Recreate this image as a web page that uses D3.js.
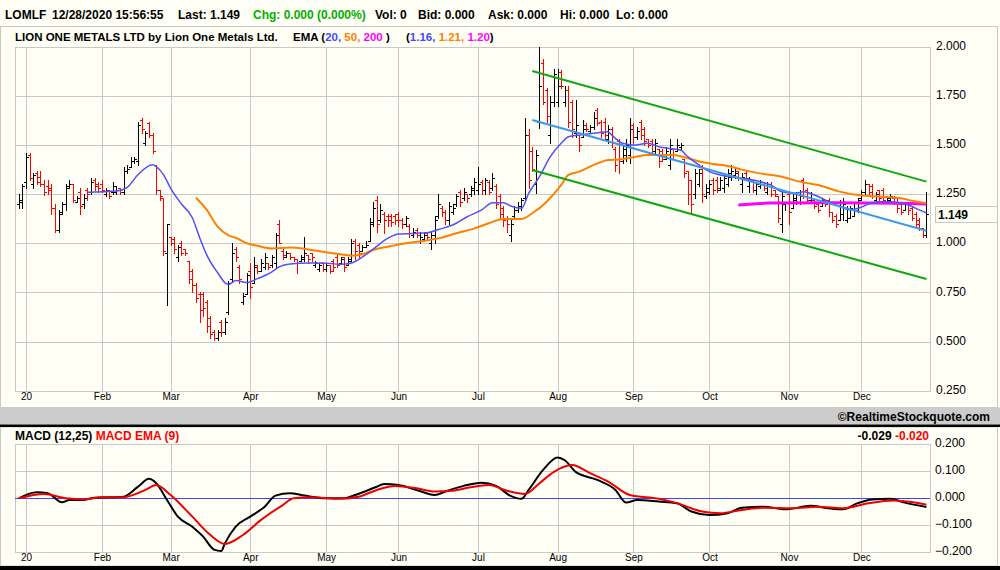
<!DOCTYPE html>
<html>
<head>
<meta charset="utf-8">
<script src="https://cdn.jsdelivr.net/npm/d3@7"></script>
<style>
body { margin: 0; background: #fffff5; }
svg { display: block; font-family: "Liberation Sans", Arial, sans-serif; }
</style>
</head>
<body>
<svg id="chart"></svg>
<script>
// daily bars [open, high, low, close], one array per month (last two 2019 sessions first)
const dec19 = [[1.20,1.25,1.18,1.22],[1.21,1.30,1.18,1.29]];
const jan = [[1.31,1.46,1.28,1.44],[1.45,1.46,1.32,1.33],[1.30,1.36,1.28,1.35],[1.36,1.37,1.30,1.31],[1.34,1.37,1.29,1.30],
  [1.30,1.32,1.245,1.26],[1.29,1.32,1.25,1.27],[1.28,1.30,1.15,1.18],[1.18,1.20,1.06,1.07],[1.07,1.17,1.06,1.15],
  [1.16,1.21,1.15,1.20],[1.20,1.30,1.17,1.28],[1.29,1.32,1.28,1.30],[1.30,1.30,1.21,1.22],[1.21,1.24,1.21,1.23],
  [1.26,1.28,1.15,1.19],[1.20,1.25,1.18,1.23],[1.27,1.28,1.22,1.25],[1.26,1.33,1.25,1.31],[1.32,1.33,1.27,1.29],
  [1.30,1.31,1.26,1.28]];
const feb = [[1.30,1.32,1.26,1.27],[1.25,1.28,1.24,1.27],[1.27,1.27,1.23,1.24],[1.26,1.31,1.25,1.29],[1.26,1.29,1.25,1.27],
  [1.28,1.28,1.25,1.26],[1.26,1.39,1.25,1.37],[1.37,1.40,1.36,1.38],[1.39,1.44,1.39,1.42],[1.42,1.44,1.41,1.43],
  [1.42,1.62,1.40,1.60],[1.63,1.64,1.56,1.58],[1.51,1.57,1.50,1.56],[1.61,1.62,1.54,1.55],[1.55,1.56,1.46,1.47],
  [1.40,1.40,1.25,1.27],[1.27,1.27,1.22,1.24],[1.23,1.23,0.94,0.96],[0.95,1.10,0.685,1.10]];
const mar = [[1.03,1.03,0.99,1.00],[1.02,1.03,0.95,0.97],[0.93,0.99,0.91,0.98],[1.00,1.01,0.94,0.95],[0.97,0.97,0.94,0.95],
  [0.91,0.91,0.80,0.82],[0.86,0.87,0.75,0.79],[0.79,0.80,0.70,0.72],[0.74,0.75,0.60,0.66],[0.74,0.75,0.63,0.67],
  [0.70,0.71,0.55,0.58],[0.62,0.63,0.52,0.54],[0.55,0.56,0.51,0.52],[0.52,0.56,0.51,0.55],[0.60,0.61,0.53,0.55],
  [0.55,0.62,0.54,0.60],[0.65,0.81,0.64,0.80],[0.82,1.00,0.81,0.95],[0.97,0.98,0.91,0.93],[0.88,0.89,0.80,0.82],
  [0.70,0.745,0.69,0.73],[0.74,0.85,0.74,0.84]];
const apr = [[0.86,0.90,0.72,0.78],[0.80,0.93,0.80,0.88],[0.89,0.89,0.85,0.86],[0.86,0.92,0.86,0.90],[0.88,0.95,0.87,0.93],
  [0.90,0.90,0.87,0.88],[0.89,0.94,0.88,0.93],[0.90,1.05,0.88,1.04],[1.10,1.12,1.00,1.00],[0.96,0.97,0.92,0.94],
  [0.93,0.96,0.93,0.95],[0.95,0.95,0.92,0.93],[0.93,0.93,0.91,0.92],[0.92,0.92,0.85,0.90],[0.91,0.94,0.91,0.93],
  [0.92,1.03,0.91,0.95],[0.94,0.94,0.90,0.92],[0.95,0.95,0.91,0.93],[0.89,0.91,0.88,0.90],[0.87,0.90,0.86,0.89],
  [0.90,0.90,0.86,0.87]];
const may = [[0.87,0.90,0.86,0.89],[0.89,0.89,0.85,0.86],[0.91,0.92,0.86,0.88],[0.93,0.94,0.88,0.89],[0.90,0.93,0.90,0.92],
  [0.93,0.93,0.86,0.88],[0.89,0.93,0.89,0.91],[0.92,1.02,0.91,1.00],[1.01,1.02,0.92,0.96],[0.99,1.00,0.93,0.95],
  [0.96,0.99,0.96,0.98],[0.98,1.01,0.98,0.99],[1.01,1.13,1.01,1.11],[1.10,1.21,1.09,1.18],[1.22,1.24,1.06,1.10],
  [1.12,1.20,1.11,1.17],[1.15,1.16,1.05,1.12],[1.14,1.15,1.09,1.12],[1.14,1.15,1.09,1.11],[1.14,1.15,1.10,1.12]];
const jun = [[1.15,1.16,1.09,1.12],[1.12,1.13,1.08,1.10],[1.10,1.14,1.09,1.13],[1.09,1.10,1.03,1.05],[1.04,1.08,1.03,1.06],
  [1.07,1.08,1.03,1.04],[1.01,1.06,1.00,1.03],[1.02,1.06,1.01,1.04],[1.05,1.06,1.02,1.03],[1.00,1.06,0.97,1.04],
  [1.04,1.14,1.00,1.12],[1.14,1.25,1.13,1.20],[1.18,1.19,1.14,1.16],[1.16,1.17,1.10,1.12],[1.12,1.21,1.10,1.19],
  [1.16,1.20,1.15,1.18],[1.20,1.25,1.19,1.24],[1.26,1.27,1.19,1.21],[1.23,1.28,1.22,1.26],[1.25,1.25,1.21,1.23],
  [1.25,1.29,1.24,1.28],[1.27,1.33,1.25,1.31]];
const jul = [[1.27,1.39,1.25,1.30],[1.31,1.32,1.25,1.27],[1.27,1.33,1.25,1.32],[1.31,1.32,1.25,1.26],[1.28,1.36,1.27,1.33],
  [1.29,1.30,1.18,1.20],[1.24,1.25,1.13,1.15],[1.18,1.19,1.09,1.12],[1.13,1.14,1.06,1.10],[1.04,1.12,1.01,1.10],
  [1.14,1.19,1.13,1.17],[1.17,1.21,1.16,1.19],[1.19,1.23,1.17,1.22],[1.23,1.64,1.22,1.55],[1.55,1.58,1.28,1.32],
  [1.47,1.49,1.37,1.38],[1.30,1.475,1.255,1.45],[1.62,2.00,1.585,1.80],[1.92,1.94,1.71,1.72],[1.78,1.79,1.62,1.65],
  [1.55,1.75,1.51,1.72],[1.72,1.89,1.70,1.86]];
const aug = [[1.72,1.89,1.70,1.80],[1.87,1.88,1.79,1.80],[1.72,1.80,1.70,1.78],[1.78,1.80,1.59,1.62],[1.72,1.73,1.54,1.58],
  [1.56,1.73,1.54,1.60],[1.55,1.55,1.47,1.50],[1.54,1.63,1.54,1.58],[1.60,1.61,1.57,1.58],[1.57,1.60,1.56,1.59],
  [1.59,1.67,1.58,1.64],[1.68,1.69,1.60,1.61],[1.62,1.63,1.54,1.56],[1.62,1.64,1.53,1.55],[1.53,1.60,1.51,1.58],
  [1.58,1.59,1.49,1.51],[1.48,1.49,1.37,1.40],[1.52,1.53,1.36,1.42],[1.42,1.50,1.41,1.48],[1.45,1.53,1.42,1.50],
  [1.45,1.64,1.41,1.58]];
const sep = [[1.60,1.61,1.51,1.54],[1.54,1.59,1.53,1.57],[1.62,1.63,1.53,1.55],[1.58,1.59,1.50,1.52],[1.53,1.53,1.49,1.50],
  [1.52,1.53,1.45,1.47],[1.47,1.53,1.46,1.51],[1.48,1.48,1.39,1.42],[1.47,1.48,1.42,1.43],[1.43,1.49,1.43,1.47],
  [1.40,1.53,1.38,1.50],[1.48,1.48,1.43,1.45],[1.47,1.53,1.47,1.50],[1.49,1.51,1.48,1.50],[1.43,1.43,1.34,1.36],
  [1.37,1.37,1.20,1.25],[1.32,1.32,1.16,1.20],[1.25,1.38,1.23,1.36],[1.30,1.38,1.29,1.36],[1.38,1.40,1.21,1.25],
  [1.24,1.30,1.23,1.28]];
const oct = [[1.26,1.32,1.25,1.30],[1.32,1.33,1.25,1.27],[1.32,1.34,1.26,1.28],[1.27,1.34,1.27,1.32],[1.28,1.36,1.26,1.33],
  [1.30,1.38,1.29,1.36],[1.34,1.40,1.32,1.37],[1.35,1.38,1.33,1.36],[1.37,1.37,1.32,1.33],[1.30,1.36,1.26,1.34],
  [1.36,1.37,1.32,1.33],[1.29,1.34,1.26,1.32],[1.32,1.32,1.26,1.27],[1.27,1.31,1.25,1.30],[1.29,1.32,1.28,1.31],
  [1.31,1.31,1.27,1.28],[1.26,1.31,1.25,1.30],[1.30,1.31,1.24,1.25],[1.27,1.27,1.24,1.25],[1.24,1.24,1.11,1.13],
  [1.10,1.26,1.06,1.24],[1.20,1.21,1.17,1.21]];
const nov = [[1.25,1.25,1.10,1.16],[1.18,1.25,1.18,1.23],[1.22,1.26,1.20,1.25],[1.21,1.27,1.20,1.24],[1.32,1.33,1.23,1.24],
  [1.27,1.28,1.21,1.22],[1.22,1.26,1.21,1.25],[1.22,1.22,1.18,1.19],[1.20,1.21,1.16,1.17],[1.19,1.23,1.19,1.22],
  [1.22,1.22,1.19,1.20],[1.22,1.23,1.14,1.16],[1.16,1.16,1.11,1.12],[1.14,1.15,1.085,1.10],[1.12,1.22,1.12,1.21],
  [1.15,1.23,1.12,1.20],[1.12,1.19,1.11,1.13],[1.13,1.19,1.13,1.18],[1.14,1.20,1.14,1.17],[1.17,1.23,1.16,1.22]];
const dec = [[1.23,1.27,1.22,1.26],[1.26,1.32,1.25,1.30],[1.30,1.30,1.24,1.26],[1.29,1.30,1.23,1.24],[1.22,1.26,1.21,1.25],
  [1.27,1.27,1.22,1.23],[1.27,1.28,1.21,1.22],[1.21,1.24,1.21,1.23],[1.22,1.25,1.21,1.24],[1.23,1.24,1.20,1.21],
  [1.23,1.23,1.16,1.18],[1.20,1.20,1.15,1.16],[1.17,1.21,1.17,1.20],[1.21,1.21,1.15,1.17],[1.18,1.19,1.12,1.13],
  [1.15,1.16,1.09,1.10],[1.12,1.13,1.07,1.08],[1.08,1.08,1.03,1.04],[1.04,1.26,1.03,1.149]];

// first session of each month (bar index) and its label
const monthStart = [2, 23, 42, 64, 85, 105, 127, 149, 170, 191, 213, 233];
const monthLabels = ["20", "Feb", "Mar", "Apr", "May", "Jun", "Jul", "Aug", "Sep", "Oct", "Nov", "Dec"];
const priceTicks = [2.0, 1.75, 1.5, 1.25, 1.0, 0.75, 0.5, 0.25];
const macdTicks = [0.2, 0.1, 0.0, -0.1, -0.2];

// moving averages, [bar index, value]
const ema20 = [[19,1.26],[27,1.266],[30,1.285],[33,1.35],[37,1.40],[38,1.39],[40,1.35],[42,1.28],[45,1.20],[48,1.13],
  [50,1.03],[52,0.94],[55,0.85],[57,0.80],[58,0.79],[60,0.81],[63,0.80],[66,0.82],[70,0.855],[72,0.88],[75,0.895],
  [80,0.90],[84,0.90],[89,0.893],[92,0.90],[95,0.93],[98,0.97],[102,1.025],[105,1.047],[109,1.05],[113,1.054],
  [116,1.07],[120,1.093],[124,1.135],[128,1.17],[131,1.207],[134,1.207],[136,1.19],[139,1.178],[141,1.254],
  [144,1.339],[147,1.441],[150,1.509],[152,1.543],[155,1.551],[159,1.56],[163,1.568],[164,1.551],[167,1.509],
  [170,1.50],[174,1.509],[177,1.492],[180,1.483],[183,1.475],[185,1.441],[188,1.40],[191,1.365],[194,1.348],
  [200,1.331],[205,1.314],[208,1.297],[211,1.263],[215,1.255],[217,1.263],[220,1.246],[223,1.221],[227,1.187],
  [230,1.17],[233,1.184],[235,1.20],[238,1.212],[241,1.212],[244,1.204],[246,1.195],[249,1.17],[251,1.155]];
const ema50 = [[49,1.232],[52,1.17],[55,1.085],[58,1.04],[60,1.028],[63,1.0],[66,0.987],[70,0.974],[75,0.978],
  [80,0.969],[84,0.957],[89,0.944],[92,0.937],[95,0.944],[98,0.966],[103,0.986],[107,1.0],[112,1.012],[116,1.025],
  [121,1.051],[126,1.076],[130,1.102],[134,1.124],[139,1.124],[142,1.153],[146,1.212],[150,1.297],[152,1.348],
  [155,1.365],[159,1.399],[163,1.424],[166,1.427],[170,1.438],[174,1.45],[177,1.45],[181,1.45],[185,1.433],
  [188,1.418],[192,1.404],[196,1.394],[200,1.375],[205,1.356],[211,1.339],[216,1.314],[222,1.292],[227,1.263],
  [233,1.243],[238,1.238],[244,1.229],[247,1.217],[251,1.205]];
const ema200 = [[199,1.195],[207,1.205],[225,1.206],[244,1.204],[251,1.20]];

// trend channel drawn on the chart: start/end bar and prices
const channelIdx = [142, 251];
const channelUpper = [1.877, 1.314];
const channelMid = [1.628, 1.064];
const channelLower = [1.373, 0.818];

// MACD (12,25) and its 9-day EMA, [bar index, value]
const macd = [[0,0],[5,0.022],[8,0.019],[12,-0.015],[14,-0.006],[18,-0.006],[21,0.002],[29,0.006],[33,0.043],
  [36,0.072],[38,0.056],[41,-0.006],[44,-0.068],[48,-0.105],[51,-0.142],[54,-0.19],[56,-0.195],[57,-0.167],
  [60,-0.105],[64,-0.068],[68,-0.031],[71,0.010],[75,0.019],[79,0.010],[85,0.0],[90,0.0],[93,0.012],[99,0.043],
  [101,0.053],[105,0.049],[110,0.031],[115,0.012],[118,0.025],[123,0.046],[128,0.058],[132,0.046],[136,0.009],
  [139,-0.002],[141,0.031],[145,0.105],[149,0.151],[151,0.141],[154,0.098],[160,0.068],[165,0.031],[168,-0.016],
  [171,-0.006],[177,-0.012],[182,-0.018],[186,-0.049],[191,-0.062],[196,-0.055],[200,-0.035],[206,-0.031],
  [212,-0.041],[219,-0.028],[224,-0.037],[228,-0.041],[232,-0.018],[236,-0.004],[241,-0.002],[245,-0.016],[251,-0.032]];
const signal = [[0,0],[7,0.016],[13,0.0],[18,-0.004],[23,0.004],[29,0.004],[35,0.031],[38,0.049],[42,0.012],
  [48,-0.068],[53,-0.136],[57,-0.169],[62,-0.136],[67,-0.080],[73,-0.025],[76,0.0],[81,0.004],[88,-0.002],
  [94,0.006],[99,0.031],[104,0.046],[110,0.037],[115,0.025],[120,0.028],[125,0.041],[130,0.049],[135,0.028],
  [140,0.016],[144,0.056],[148,0.098],[153,0.123],[158,0.093],[163,0.062],[169,0.012],[177,-0.002],[182,-0.018],
  [189,-0.049],[194,-0.055],[200,-0.043],[206,-0.035],[214,-0.037],[221,-0.031],[228,-0.037],[235,-0.018],
  [242,-0.008],[247,-0.014],[251,-0.024]];

const bars = [].concat(dec19, jan, feb, mar, apr, may, jun, jul, aug, sep, oct, nov, dec);
const lastClose = bars[bars.length - 1][3];

const W = 1000, H = 570;
const grid = "#c8c8c8";
const plot = { left: 15, right: 930 };
const price = { top: 46.9, bottom: 390.6 };
const osc = { top: 444.3, bottom: 552.3 };

const svg = d3.select("#chart").attr("width", W).attr("height", H);
svg.append("rect").attr("width", W).attr("height", H).attr("fill", "#fffff5");

const x = d3.scaleLinear().domain([2, 251]).range([26, 926.4]);
const y = d3.scaleLinear().domain([0.25, 2]).range([price.bottom, price.top]);
const yM = d3.scaleLinear().domain([-0.2, 0.2]).range([osc.bottom, osc.top]);
const px = i => Math.round(x(i)) + 0.5;

// ---- header
const head = svg.append("g").attr("font-size", 12).attr("font-weight", "bold");
[["LOMLF", 5, "#000"], ["12/28/2020 15:56:55", 52, "#000"], ["Last: 1.149", 178, "#000"],
 ["Chg: 0.000 (0.000%)", 253, "#00b000"], ["Vol: 0", 375, "#000"], ["Bid: 0.000", 418, "#000"],
 ["Ask: 0.000", 488, "#000"], ["Hi: 0.000", 560, "#000"], ["Lo: 0.000", 616, "#000"]]
  .forEach(([t, tx, c]) => head.append("text").attr("x", tx).attr("y", 18.5).attr("fill", c).text(t));

// panel frames
svg.append("rect").attr("x", 0.5).attr("y", 26.5).attr("width", 997).attr("height", 381)
  .attr("fill", "none").attr("stroke", grid);
svg.append("rect").attr("x", 0.5).attr("y", 427).attr("width", 997).attr("height", 139)
  .attr("fill", "none").attr("stroke", grid);

const title = svg.append("text").attr("x", 15).attr("y", 41).attr("font-size", 11.5).attr("font-weight", "bold");
title.append("tspan").text("LION ONE METALS LTD by Lion One Metals Ltd.");
title.append("tspan").attr("x", 293).text("EMA (");
title.append("tspan").attr("fill", "#4848ff").text("20, ");
title.append("tspan").attr("fill", "#ff8000").text("50, ");
title.append("tspan").attr("fill", "#ff00ff").text("200");
title.append("tspan").text(" )");
title.append("tspan").attr("x", 406).text("(");
title.append("tspan").attr("fill", "#4848ff").text("1.16, ");
title.append("tspan").attr("fill", "#ff8000").text("1.21, ");
title.append("tspan").attr("fill", "#ff00ff").text("1.20");
title.append("tspan").text(")");

// ---- grids for both panels
function panelGrid(yScale, ticks, top, bottom) {
  const g = svg.append("g").attr("shape-rendering", "crispEdges");
  g.selectAll(".v").data(monthStart).join("line")
    .attr("x1", d => px(d)).attr("x2", d => px(d))
    .attr("y1", top).attr("y2", bottom).attr("stroke", grid);
  g.selectAll(".h").data(ticks).join("line")
    .attr("x1", plot.left).attr("x2", plot.right)
    .attr("y1", d => Math.round(yScale(d)) + 0.5).attr("y2", d => Math.round(yScale(d)) + 0.5)
    .attr("stroke", grid);
  g.append("rect").attr("x", plot.left + 0.5).attr("y", Math.round(top) + 0.5)
    .attr("width", plot.right - plot.left).attr("height", Math.round(bottom) - Math.round(top))
    .attr("fill", "none").attr("stroke", grid);
}
panelGrid(y, priceTicks, price.top, price.bottom);
panelGrid(yM, macdTicks, osc.top, osc.bottom);

// axes (labels only)
function styleAxis(g, size) {
  g.select(".domain").remove();
  g.selectAll("text").attr("font-size", size).attr("fill", "#000")
    .attr("font-family", "'Liberation Sans', Arial, sans-serif");
}
svg.append("g").attr("transform", `translate(${plot.right},0)`)
  .call(d3.axisRight(y).tickValues(priceTicks).tickFormat(d3.format(".3f")).tickSize(0).tickPadding(6))
  .call(g => styleAxis(g, 12))
  .call(g => g.selectAll("text").attr("dy", "0.22em"));
svg.append("g").attr("transform", `translate(${plot.right},0)`)
  .call(d3.axisRight(yM).tickValues(macdTicks).tickFormat(d3.format(".3f")).tickSize(0).tickPadding(5))
  .call(g => styleAxis(g, 12))
  .call(g => g.selectAll("text").attr("dy", "0.22em"));
[price.bottom, osc.bottom].forEach(b => {
  svg.append("g").attr("transform", `translate(0,${b})`)
    .call(d3.axisBottom(x).tickValues(monthStart).tickFormat((d, i) => monthLabels[i]).tickSize(0).tickPadding(2))
    .call(g => styleAxis(g, 10));
});

// ---- OHLC bars
const ohlc = svg.append("g").attr("shape-rendering", "crispEdges").attr("fill", "none");
ohlc.selectAll("path").data(bars).join("path")
  .attr("stroke", d => d[3] < d[0] ? "#ff0000" : "#000")
  .attr("d", (d, i) => {
    const cx = px(i);
    const yo = Math.round(y(d[0])) + 0.5, yc = Math.round(y(d[3])) + 0.5;
    return `M${cx},${Math.round(y(d[1]))}V${Math.round(y(d[2])) + 1}` +
      `M${cx - 2.5},${yo}H${cx}M${cx},${yc}H${cx + 2.5}`;
  });

// ---- moving averages and channel
const line = (ys, curve = d3.curveMonotoneX) => d3.line().x(d => x(d[0])).y(d => ys(d[1])).curve(curve);
svg.append("path").datum(ema200).attr("d", line(y, d3.curveLinear)).attr("fill", "none")
  .attr("stroke", "#ff00ff").attr("stroke-width", 3);
svg.append("path").datum(ema50).attr("d", line(y)).attr("fill", "none")
  .attr("stroke", "#ff8000").attr("stroke-width", 2);
svg.append("path").datum(ema20).attr("d", line(y)).attr("fill", "none")
  .attr("stroke", "#5050ff").attr("stroke-width", 1.5);

[[channelUpper, "#10a810"], [channelLower, "#10a810"], [channelMid, "#3a9ae8"]].forEach(([vals, c]) => {
  svg.append("line")
    .attr("x1", x(channelIdx[0])).attr("y1", y(vals[0]))
    .attr("x2", x(channelIdx[1])).attr("y2", y(vals[1]))
    .attr("stroke", c).attr("stroke-width", 2);
});

// last price box
const lp = svg.append("g");
lp.append("rect").attr("x", 935.5).attr("y", Math.round(y(lastClose)) - 7.5)
  .attr("width", 62).attr("height", 16).attr("fill", "#fffff5").attr("stroke", grid);
lp.append("text").attr("x", 938).attr("y", y(lastClose) + 4.5)
  .attr("font-size", 12).attr("font-weight", "bold").text(d3.format(".3f")(lastClose));

// ---- separator band
svg.append("rect").attr("x", 0).attr("y", 407.5).attr("width", W).attr("height", 17).attr("fill", "#cccccc");
svg.append("rect").attr("x", 0).attr("y", 424.5).attr("width", W).attr("height", 2.5).attr("fill", "#000");
svg.append("text").attr("x", 990).attr("y", 420.5).attr("text-anchor", "end")
  .attr("font-size", 12).attr("font-weight", "bold").text("\u00a9RealtimeStockquote.com");

// ---- MACD panel
const mt = svg.append("text").attr("x", 15).attr("y", 440).attr("font-size", 12).attr("font-weight", "bold");
mt.append("tspan").text("MACD (12,25) ");
mt.append("tspan").attr("fill", "#ff0000").text("MACD EMA (9)");
const mv = svg.append("text").attr("x", 929).attr("y", 440).attr("font-size", 12)
  .attr("font-weight", "bold").attr("text-anchor", "end");
mv.append("tspan").text("-0.029 ");
mv.append("tspan").attr("fill", "#ff0000").text("-0.020");

svg.append("line").attr("x1", plot.left).attr("x2", plot.right)
  .attr("y1", Math.round(yM(0)) + 0.5).attr("y2", Math.round(yM(0)) + 0.5)
  .attr("stroke", "#4040ff").attr("shape-rendering", "crispEdges");
svg.append("path").datum(macd).attr("d", line(yM)).attr("fill", "none")
  .attr("stroke", "#000").attr("stroke-width", 2);
svg.append("path").datum(signal).attr("d", line(yM)).attr("fill", "none")
  .attr("stroke", "#ee0000").attr("stroke-width", 2);

svg.append("rect").attr("x", 0).attr("y", 566).attr("width", W).attr("height", 4).attr("fill", "#000");
</script>
</body>
</html>
